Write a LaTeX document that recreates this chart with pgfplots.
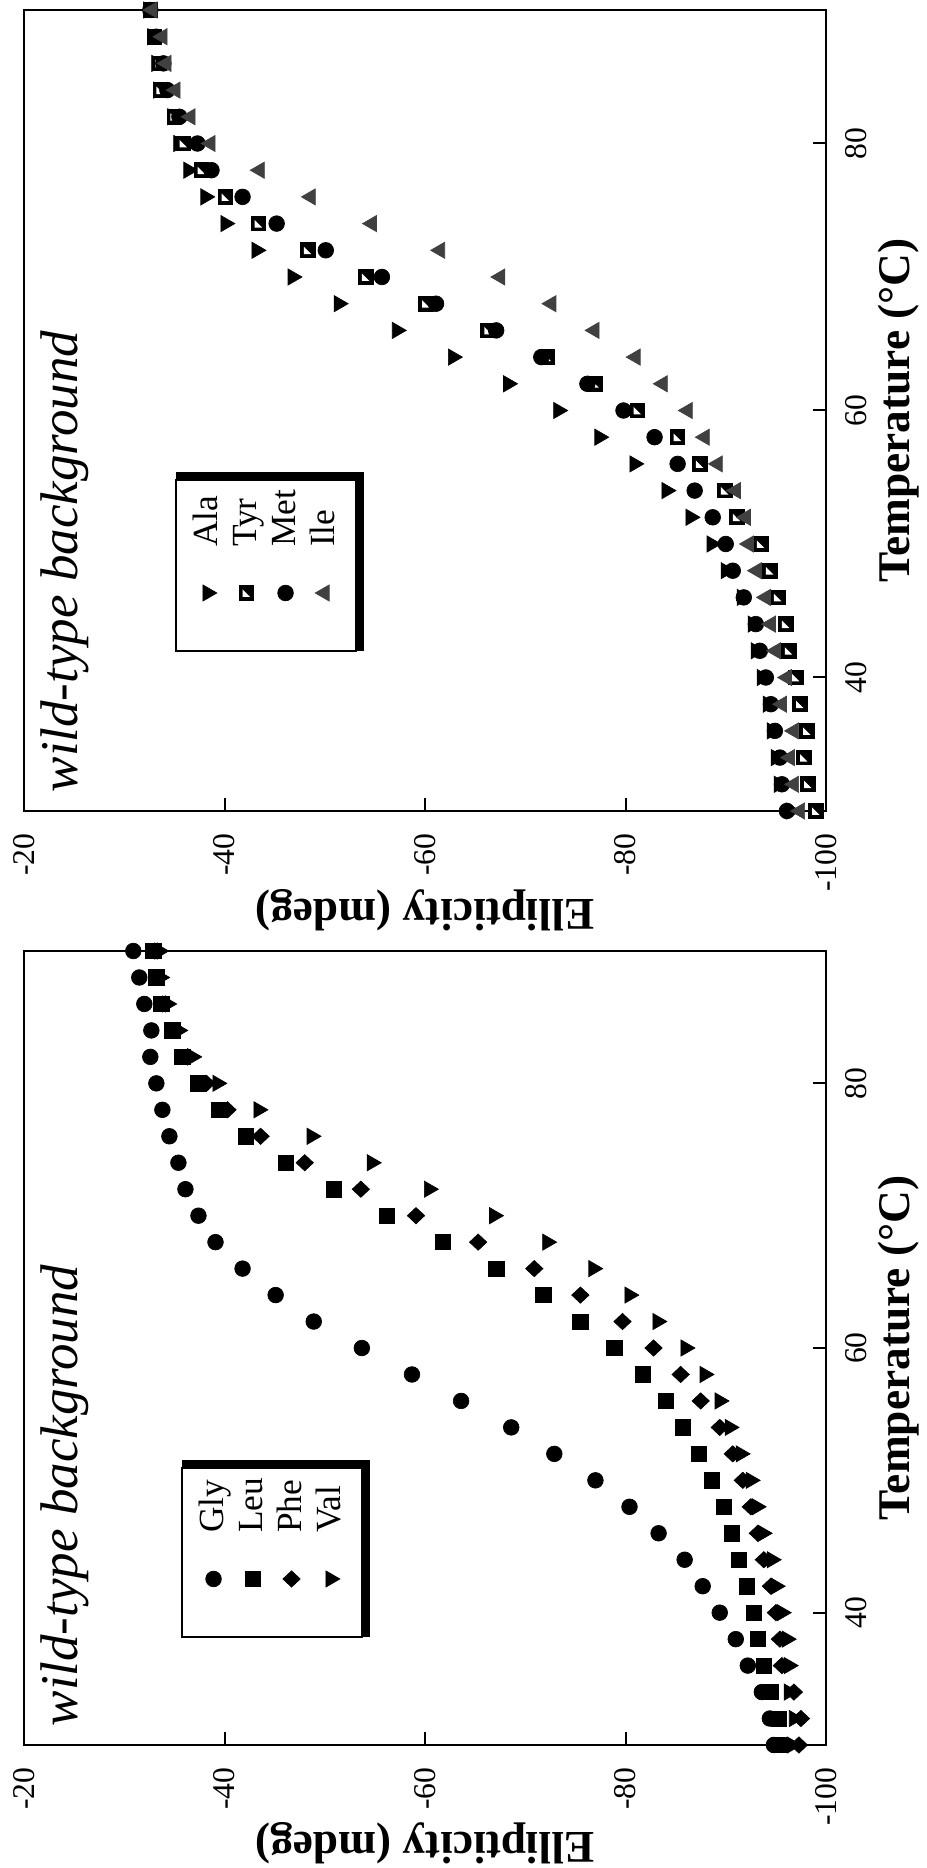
\documentclass[border=0pt]{standalone}
\usepackage{graphicx}
\usepackage{fontspec}
\setmainfont{Liberation Serif}
\usepackage{pgfplots}
\usepackage{pgfplotstable}
\pgfplotsset{compat=1.18}
\usetikzlibrary{shadows}

\pgfdeclareplotmark{tyr}{%
  \pgfpathrectangle{\pgfpoint{-\pgfplotmarksize}{-\pgfplotmarksize}}{\pgfpoint{2\pgfplotmarksize}{2\pgfplotmarksize}}%
  \pgfusepathqfill
  \begin{pgfscope}%
  \pgfsetfillcolor{white}%
  \pgfpathmoveto{\pgfpoint{-0.5\pgfplotmarksize}{0.5\pgfplotmarksize}}%
  \pgfpathlineto{\pgfpoint{0.45\pgfplotmarksize}{0.5\pgfplotmarksize}}%
  \pgfpathlineto{\pgfpoint{-0.5\pgfplotmarksize}{-0.45\pgfplotmarksize}}%
  \pgfpathclose
  \pgfusepathqfill
  \end{pgfscope}%
}

\newcommand\lt[1]{\raisebox{0pt}[7.2pt][0pt]{#1}}

\pgfplotstableread{
T  Gly   Leu   Phe   Val
90 -30.9 -32.9 -33.3 -33.5
88 -31.5 -33.2 -33.4 -33.6
86 -32.0 -33.7 -34.1 -34.3
84 -32.7 -34.8 -35.2 -35.4
82 -32.6 -35.8 -36.3 -36.8
80 -33.2 -37.4 -38.2 -39.3
78 -33.8 -39.4 -40.3 -43.4
76 -34.5 -42.1 -43.6 -48.7
74 -35.4 -46.1 -48.0 -54.7
72 -36.1 -50.9 -53.6 -60.4
70 -37.4 -56.2 -59.1 -66.9
68 -39.1 -61.8 -65.3 -72.2
66 -41.8 -67.1 -70.9 -76.8
64 -45.1 -71.8 -75.5 -80.4
62 -48.9 -75.5 -79.7 -83.2
60 -53.7 -78.9 -82.8 -86.0
58 -58.7 -81.7 -85.5 -87.9
56 -63.6 -84.0 -87.5 -89.4
54 -68.6 -85.7 -89.4 -90.4
52 -72.9 -87.3 -90.7 -91.5
50 -77.0 -88.6 -91.7 -92.5
48 -80.4 -89.8 -92.5 -93.1
46 -83.3 -90.6 -93.2 -93.7
44 -85.9 -91.3 -93.8 -94.6
42 -87.7 -92.1 -94.5 -95.0
40 -89.4 -92.8 -95.0 -95.6
38 -91.0 -93.2 -95.4 -96.1
36 -92.2 -93.8 -95.6 -96.3
34 -93.6 -94.5 -96.8 -96.3
32 -94.4 -95.3 -97.5 -96.8
30 -94.8 -95.3 -97.3 -96.6
}\leftdata

\pgfplotstableread{
T  Ala   Tyr   Met   Ile
90 -32.4 -32.6 -32.6 -32.8
88 -32.8 -33.0 -33.2 -33.8
86 -33.2 -33.5 -33.9 -34.2
84 -33.4 -33.6 -34.3 -35.1
82 -34.8 -35.0 -35.5 -36.6
80 -35.4 -35.9 -37.3 -38.6
78 -36.4 -37.7 -38.7 -43.5
76 -38.1 -40.1 -41.8 -48.6
74 -40.1 -43.4 -45.2 -54.7
72 -43.2 -48.3 -50.1 -61.5
70 -46.8 -54.1 -55.7 -67.5
68 -51.4 -60.1 -61.1 -72.6
66 -57.2 -66.3 -67.1 -76.9
64 -62.8 -72.2 -71.6 -81.0
62 -68.3 -77.0 -76.2 -83.7
60 -73.3 -81.2 -79.8 -86.2
58 -77.4 -85.2 -82.9 -87.9
56 -80.9 -87.4 -85.2 -89.2
54 -84.1 -89.9 -86.9 -91.0
52 -86.5 -91.1 -88.7 -92.0
50 -88.6 -93.5 -90.0 -92.3
48 -90.0 -94.4 -90.7 -93.1
46 -91.6 -95.2 -91.8 -94.0
44 -92.7 -96.0 -93.0 -94.5
42 -93.0 -96.3 -93.4 -95.0
40 -93.6 -97.0 -94.0 -96.1
38 -94.2 -97.4 -94.5 -95.6
36 -94.6 -98.1 -94.9 -96.8
34 -95.0 -97.8 -95.4 -96.4
32 -95.3 -98.2 -95.6 -96.8
30 -96.5 -99.0 -96.1 -97.4
}\rightdata

\tikzset{wtitle/.style={anchor=base west, inner sep=0pt, font=\itshape\fontsize{15.9}{17}\selectfont}}

\pgfplotsset{
  legend image code/.code={\path (-14.1pt,0pt) (8pt,0pt); \draw[#1] plot coordinates {(0pt,0pt)};},
  panel/.style={
    anchor=south west, scale only axis, height=240.6pt,
    xmin=30, xmax=90, ymin=-100, ymax=-20, clip=false,
    xtick={40,60,80}, xticklabels={40,60,80},
    ytick={-100,-80,-60,-40,-20}, yticklabels={-100,-80,-60,-40,-20},
    xtick pos=bottom, ytick pos=left, tick align=inside,
    major tick length=4pt,
    every tick/.style={black, line width=0.6pt},
    axis line style={line width=0.6pt},
    tick label style={font=\fontsize{9.5}{10}\selectfont, inner sep=0pt},
    xticklabel style={yshift=-5.7pt},
    yticklabel style={xshift=-6.6pt},
    xlabel={Temperature (°C)}, ylabel={Ellipticity (mdeg)},
    xlabel style={font=\bfseries\fontsize{13.6}{15}\selectfont, at={(axis description cs:0.5,-0.0636)}, anchor=north, inner sep=0pt},
    ylabel style={font=\bfseries\fontsize{13.6}{15}\selectfont, at={(axis description cs:-0.097,0.5)}, anchor=south, inner sep=0pt},
    legend cell align=left,
    legend style={anchor=north west, draw=black, line width=0.6pt, fill=white,
      inner xsep=3pt, inner ysep=5.1pt, row sep=3pt, column sep=5.5pt,
      font=\fontsize{10.6}{11}\selectfont, nodes={inner sep=0pt},
      drop shadow={shadow scale=1.047, shadow xshift=1.15pt, shadow yshift=-1.15pt, fill=black, opacity=1}},
  },
  mcirc/.style={only marks, mark=*, mark size=2.35pt, mark options={fill=black, draw=black, line width=0.2pt}},
  msq/.style={only marks, mark=square*, mark size=2.3pt, mark options={fill=black, draw=black, line width=0.2pt}},
  mdia/.style={only marks, mark=diamond*, mark size=2.6pt, mark options={fill=black, draw=black, line width=0.2pt, xscale=1.25}},
  mdown/.style={only marks, mark=triangle*, mark size=2.8pt, mark options={fill=black, draw=black, line width=0.2pt, rotate=180}},
  mup/.style={only marks, mark=triangle*, mark size=2.8pt, mark options={fill=black!75, draw=black!75, line width=0.2pt}},
  mtyr/.style={only marks, mark=tyr, mark size=2.35pt, mark options={fill=black, draw=black}},
}

\begin{document}
\rotatebox{90}{%
\begin{tikzpicture}
\useasboundingbox (0,0) rectangle (560.4pt,278.1pt);
\begin{axis}[panel, at={(36.9pt,30.3pt)}, width=238.2pt,
  legend style={at={(axis description cs:0.1348,0.8042)}}]
\addplot[mcirc] table[x=T,y=Gly] {\leftdata}; \addlegendentry{\lt{Gly}}
\addplot[msq]   table[x=T,y=Leu] {\leftdata}; \addlegendentry{\lt{Leu}}
\addplot[mdia]  table[x=T,y=Phe] {\leftdata}; \addlegendentry{\lt{Phe}}
\addplot[mdown] table[x=T,y=Val] {\leftdata}; \addlegendentry{\lt{Val}}
\node[wtitle] at ([xshift=5.4pt,yshift=-15.9pt]rel axis cs:0,1) {wild-type background};
\end{axis}
\begin{axis}[panel, at={(317.1pt,30.3pt)}, width=240.3pt,
  legend style={at={(axis description cs:0.1985,0.8117)}}]
\addplot[mdown] table[x=T,y=Ala] {\rightdata}; \addlegendentry{\lt{Ala}}
\addplot[mtyr]  table[x=T,y=Tyr] {\rightdata}; \addlegendentry{\lt{Tyr}}
\addplot[mcirc] table[x=T,y=Met] {\rightdata}; \addlegendentry{\lt{Met}}
\addplot[mup]   table[x=T,y=Ile] {\rightdata}; \addlegendentry{\lt{Ile}}
\node[wtitle] at ([xshift=5.4pt,yshift=-15.9pt]rel axis cs:0,1) {wild-type background};
\end{axis}
\end{tikzpicture}}
\end{document}
